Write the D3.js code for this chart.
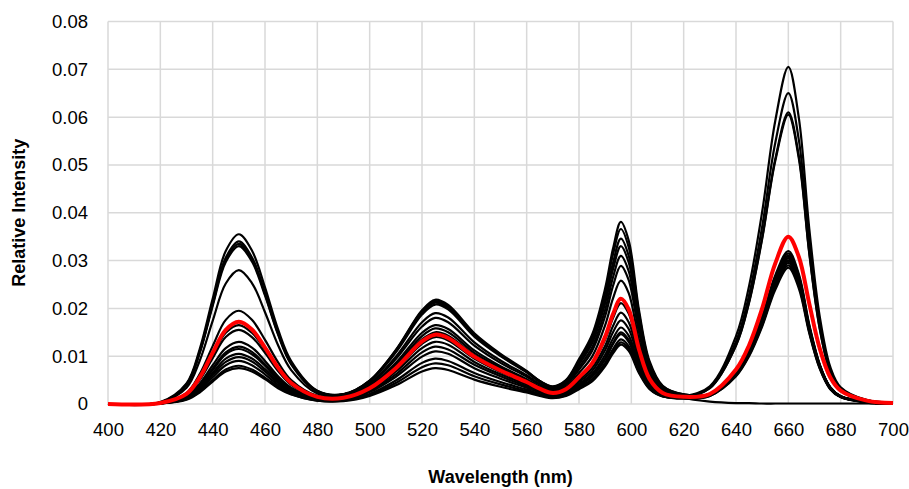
<!DOCTYPE html>
<html>
<head>
<meta charset="utf-8">
<script src="https://cdn.jsdelivr.net/npm/d3@7"></script>
<style>
  body { margin: 0; background: #fff; }
  svg { display: block; font-family: "Liberation Sans", Arial, sans-serif; }
</style>
</head>
<body>
<div class="canvas"></div>
<script>
// wavelengths (nm) at which the spectra were read
const wavelengths = [400,420,430,435,440,445,450,455,460,465,470,480,490,500,510,520,525,530,540,550,560,565,570,575,580,585,590,593,596,599,603,607,612,620,630,640,645,650,655,660,664,668,672,676,680,690,700];

// black spectra
const s1 = [0,.0001,.0009,.0024,.0047,.0068,.0075,.0068,.0052,.0033,.0020,.0007,.0006,.0017,.0039,.0068,.0075,.0071,.0051,.0036,.0024,.0017,.0012,.0017,.0031,.0047,.0079,.0106,.0124,.0111,.0064,.0031,.0016,.0016,.0037,.0142,.0247,.0402,.0592,.0705,.0599,.0367,.0183,.0078,.0035,.0008,.0003];
const s2 = [0,.0001,.0010,.0026,.0050,.0072,.0080,.0072,.0055,.0036,.0021,.0007,.0007,.0019,.0044,.0077,.0085,.0081,.0058,.0041,.0027,.0019,.0014,.0018,.0033,.0050,.0083,.0111,.0129,.0116,.0067,.0032,.0016,.0015,.0035,.0131,.0228,.0371,.0546,.0650,.0553,.0338,.0169,.0072,.0033,.0008,.0003];
const s3 = [0,.0001,.0011,.0029,.0056,.0081,.0090,.0081,.0062,.0040,.0024,.0008,.0008,.0021,.0049,.0086,.0095,.0090,.0065,.0046,.0030,.0021,.0015,.0019,.0035,.0052,.0086,.0115,.0135,.0121,.0070,.0033,.0017,.0015,.0033,.0123,.0214,.0348,.0512,.0610,.0519,.0317,.0159,.0067,.0031,.0007,.0002];
const s4 = [0,.0001,.0012,.0031,.0061,.0088,.0098,.0089,.0068,.0044,.0026,.0009,.0009,.0025,.0057,.0099,.0110,.0105,.0075,.0053,.0034,.0024,.0017,.0021,.0038,.0057,.0093,.0125,.0146,.0130,.0076,.0036,.0018,.0015,.0033,.0122,.0212,.0345,.0508,.0605,.0514,.0315,.0157,.0067,.0030,.0007,.0002];
const s5 = [0,.0004,.0043,.0114,.0220,.0320,.0355,.0321,.0244,.0156,.0090,.0028,.0021,.0049,.0113,.0196,.0218,.0207,.0148,.0105,.0069,.0048,.0037,.0050,.0094,.0145,.0242,.0325,.0381,.0342,.0194,.0089,.0038,.0020,.0021,.0065,.0109,.0177,.0260,.0310,.0264,.0161,.0081,.0034,.0016,.0004,.0001];
const s6 = [0,.0003,.0041,.0109,.0211,.0306,.0340,.0307,.0233,.0149,.0086,.0027,.0020,.0049,.0112,.0194,.0215,.0204,.0146,.0103,.0068,.0048,.0036,.0049,.0090,.0139,.0233,.0313,.0366,.0328,.0187,.0085,.0037,.0020,.0021,.0064,.0107,.0174,.0256,.0305,.0259,.0159,.0079,.0034,.0015,.0004,.0001];
const s7 = [0,.0003,.0040,.0107,.0208,.0302,.0335,.0303,.0230,.0147,.0085,.0026,.0020,.0048,.0110,.0191,.0212,.0201,.0144,.0102,.0067,.0047,.0035,.0047,.0086,.0132,.0220,.0295,.0346,.0310,.0177,.0081,.0035,.0019,.0020,.0063,.0105,.0171,.0252,.0300,.0255,.0156,.0078,.0033,.0015,.0004,.0001];
const s8 = [0,.0003,.0040,.0106,.0205,.0297,.0330,.0298,.0227,.0145,.0083,.0026,.0020,.0047,.0108,.0187,.0208,.0198,.0141,.0100,.0066,.0046,.0034,.0045,.0083,.0127,.0211,.0282,.0330,.0296,.0169,.0078,.0034,.0018,.0020,.0062,.0103,.0168,.0248,.0295,.0251,.0153,.0077,.0032,.0015,.0004,.0001];
const s9 = [0,.0003,.0034,.0090,.0174,.0252,.0280,.0253,.0192,.0123,.0071,.0022,.0018,.0043,.0099,.0171,.0190,.0181,.0129,.0091,.0060,.0042,.0031,.0042,.0077,.0118,.0197,.0265,.0310,.0278,.0158,.0072,.0030,.0013,.0005,.0002,.0002,.0001,.0001,.0001,.0001,.0001,.0001,.0001,.0001,.0001,.0001];
const s10 = [0,.0002,.0023,.0062,.0121,.0176,.0195,.0176,.0134,.0087,.0050,.0017,.0016,.0040,.0094,.0162,.0180,.0171,.0122,.0086,.0057,.0040,.0030,.0040,.0072,.0111,.0184,.0247,.0289,.0259,.0148,.0068,.0030,.0017,.0021,.0066,.0112,.0182,.0269,.0320,.0272,.0166,.0083,.0035,.0016,.0004,.0001];
const s11 = [0,.0002,.0020,.0053,.0102,.0149,.0165,.0149,.0114,.0073,.0043,.0015,.0014,.0037,.0086,.0149,.0165,.0157,.0112,.0079,.0052,.0036,.0027,.0036,.0065,.0099,.0165,.0221,.0258,.0232,.0132,.0061,.0027,.0016,.0020,.0065,.0110,.0180,.0265,.0315,.0268,.0164,.0082,.0035,.0016,.0004,.0001];
const s12 = [0,.0002,.0019,.0050,.0096,.0140,.0155,.0140,.0107,.0069,.0040,.0014,.0013,.0035,.0082,.0142,.0158,.0150,.0107,.0076,.0049,.0034,.0024,.0031,.0055,.0082,.0135,.0180,.0211,.0189,.0108,.0050,.0023,.0014,.0019,.0064,.0109,.0177,.0260,.0310,.0264,.0161,.0081,.0034,.0016,.0004,.0001];
const s13 = [0,.0001,.0016,.0042,.0081,.0117,.0130,.0118,.0090,.0058,.0034,.0012,.0012,.0034,.0078,.0135,.0150,.0143,.0102,.0072,.0047,.0032,.0023,.0028,.0050,.0075,.0122,.0163,.0191,.0171,.0098,.0046,.0021,.0013,.0019,.0063,.0107,.0174,.0256,.0305,.0259,.0159,.0079,.0034,.0015,.0004,.0001];
const s14 = [0,.0001,.0014,.0038,.0074,.0108,.0120,.0109,.0083,.0054,.0032,.0011,.0012,.0031,.0073,.0126,.0140,.0133,.0095,.0067,.0044,.0030,.0021,.0026,.0046,.0069,.0113,.0150,.0175,.0157,.0090,.0042,.0019,.0012,.0018,.0062,.0105,.0171,.0252,.0300,.0255,.0156,.0078,.0033,.0015,.0004,.0001];
const s15 = [0,.0001,.0014,.0037,.0071,.0104,.0115,.0104,.0080,.0051,.0030,.0011,.0011,.0029,.0068,.0117,.0130,.0124,.0088,.0062,.0041,.0028,.0020,.0024,.0042,.0063,.0103,.0137,.0160,.0143,.0082,.0038,.0018,.0012,.0017,.0059,.0102,.0165,.0244,.0290,.0247,.0151,.0075,.0032,.0015,.0003,.0001];
const s16 = [0,.0001,.0013,.0034,.0065,.0095,.0105,.0095,.0073,.0047,.0028,.0010,.0010,.0027,.0062,.0108,.0120,.0114,.0082,.0058,.0037,.0026,.0018,.0023,.0040,.0059,.0096,.0128,.0150,.0134,.0077,.0036,.0017,.0011,.0017,.0058,.0100,.0162,.0239,.0285,.0242,.0148,.0074,.0031,.0014,.0003,.0001];

// highlighted (red) spectrum
const redSeries = [0,.0002,.0021,.0055,.0107,.0155,.0172,.0156,.0118,.0076,.0044,.0015,.0013,.0033,.0075,.0131,.0145,.0138,.0099,.0070,.0046,.0032,.0023,.0031,.0056,.0085,.0141,.0188,.0220,.0198,.0113,.0052,.0023,.0015,.0021,.0072,.0123,.0200,.0294,.0350,.0308,.0210,.0116,.0056,.0028,.0007,.0002];

const blackSeries = [s1,s2,s3,s4,s5,s6,s7,s8,s9,s10,s11,s12,s13,s14,s15,s16];

const xTicks = [400,420,440,460,480,500,520,540,560,580,600,620,640,660,680,700];
const yTicks = [0,0.01,0.02,0.03,0.04,0.05,0.06,0.07,0.08];

const width = 909, height = 489;
const margin = { top: 21.5, right: 16, bottom: 85, left: 108 };
const graphWidth = width - margin.left - margin.right;
const graphHeight = height - margin.top - margin.bottom;

const svg = d3.select('.canvas')
   .append('svg')
   .attr('width', width)
   .attr('height', height);

const graph = svg.append('g')
   .attr('transform', `translate(${margin.left}, ${margin.top})`);

const x = d3.scaleLinear().domain([400, 700]).range([0, graphWidth]);
const y = d3.scaleLinear().domain([0, 0.08]).range([graphHeight, 0]);

// gridlines
graph.append('g')
   .selectAll('line')
   .data(xTicks)
   .enter().append('line')
      .attr('x1', d => x(d)).attr('x2', d => x(d))
      .attr('y1', 0).attr('y2', graphHeight)
      .attr('stroke', '#d9d9d9')
      .attr('stroke-width', 1.5);

graph.append('g')
   .selectAll('line')
   .data(yTicks)
   .enter().append('line')
      .attr('x1', 0).attr('x2', graphWidth)
      .attr('y1', d => y(d)).attr('y2', d => y(d))
      .attr('stroke', '#d9d9d9')
      .attr('stroke-width', 1.5);

// axes (labels only)
const xAxis = d3.axisBottom(x).tickValues(xTicks).tickSize(0).tickPadding(19).tickFormat(d3.format('d'));
const yAxis = d3.axisLeft(y).tickValues(yTicks).tickSize(0).tickPadding(20)
   .tickFormat(d => d === 0 ? '0' : d3.format('.2f')(d));

const xAxisGroup = graph.append('g')
   .attr('transform', `translate(0, ${graphHeight})`)
   .call(xAxis);
const yAxisGroup = graph.append('g').call(yAxis);

[xAxisGroup, yAxisGroup].forEach(g => {
   g.select('.domain').remove();
   g.selectAll('text')
      .attr('fill', '#000')
      .style('font-size', '18.5px')
      .style('font-family', '"Liberation Sans", Arial, sans-serif');
});

// lines
const line = d3.line()
   .x((d, i) => x(wavelengths[i]))
   .y(d => y(d))
   .curve(d3.curveCatmullRom.alpha(0.5));

graph.append('g')
   .selectAll('path')
   .data(blackSeries)
   .enter().append('path')
      .attr('fill', 'none')
      .attr('stroke', '#000')
      .attr('stroke-width', 2.2)
      .attr('d', line);

graph.append('path')
   .datum(redSeries)
   .attr('fill', 'none')
   .attr('stroke', '#ff0000')
   .attr('stroke-width', 4)
   .attr('d', line);

// axis titles
svg.append('text')
   .attr('transform', `translate(25, ${margin.top + graphHeight / 2}) rotate(-90)`)
   .attr('text-anchor', 'middle')
   .style('font-size', '18px')
   .style('font-weight', 'bold')
   .text('Relative Intensity');

svg.append('text')
   .attr('x', margin.left + graphWidth / 2)
   .attr('y', 483)
   .attr('text-anchor', 'middle')
   .style('font-size', '18px')
   .style('font-weight', 'bold')
   .text('Wavelength (nm)');
</script>
</body>
</html>
